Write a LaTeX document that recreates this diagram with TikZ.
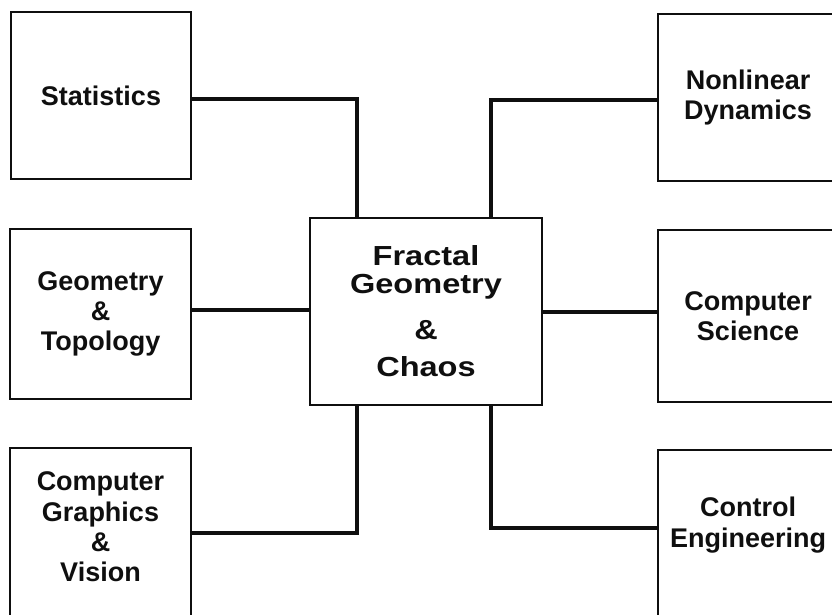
\documentclass[tikz,border=0pt]{standalone}
\usepackage{fontspec}
\setmainfont{Liberation Sans}
\newfontfamily\hubfont{Liberation Sans}[FakeStretch=1.18]
\usetikzlibrary{positioning, calc}
\definecolor{ink}{RGB}{15,15,15}

\tikzset{
  field/.style={draw=ink, line width=1.4pt, minimum width=4.5cm, minimum height=4.25cm,
    inner sep=0pt, align=center, text=ink, font=\fontsize{19.2pt}{21.6pt}\selectfont\bfseries},
  tag/.style={inner sep=0pt, align=center, text=ink, font=\fontsize{19.2pt}{21.6pt}\selectfont\bfseries},
  hub/.style={draw=ink, line width=1.4pt, minimum width=5.8cm, minimum height=4.675cm,
    inner sep=0pt, align=center, text=ink, font=\hubfont\fontsize{19.6pt}{19.9pt}\selectfont\bfseries},
  link/.style={draw=ink, line width=2.8pt}
}

\begin{document}
\begin{tikzpicture}[x=0.025cm, y=-0.025cm]
  \path[use as bounding box, clip] (0,0) rectangle (832,614);

  % the hub in the middle
  \node[hub] (fgc) at (426,311.5) {Fractal\\Geometry\\[0.45cm]\&\\[0.225cm]Chaos};

  % left column
  \node[field, minimum height=4.175cm] (stat) at (101,95.5) {Statistics};
  \node[field] (geom) at (100.5,314) {Geometry\\\&\\Topology};
  \node[field] (graph) at (100.5,533) {};
  \node[tag] (graphtxt) at (100.5,527) {Computer\\Graphics\\\&\\Vision};

  % right column
  \node[field, minimum height=4.175cm] (nonlin) at (748,97.5) {Nonlinear\\Dynamics};
  \node[field, minimum height=4.3cm] (cs) at (748,316) {Computer\\Science};
  \node[field] (ctrl) at (748,535) {};
  \node[tag] (ctrltxt) at (748,525) {Control\\Engineering};

  % connectors
  \draw[link] ([yshift=-0.0875cm]stat.east) -| ([xshift=-1.725cm]fgc.north);
  \draw[link] ([yshift=-0.0625cm]nonlin.west) -| ([xshift=1.625cm]fgc.north);
  \draw[link] ([yshift=0.1cm]geom.east) -- ([yshift=0.1cm]geom.east -| fgc.west);
  \draw[link] ([yshift=0.1cm]cs.west -| fgc.east) -- ([yshift=0.1cm]cs.west);
  \draw[link] (graph.east) -| ([xshift=-1.725cm]fgc.south);
  \draw[link] ([yshift=0.175cm]ctrl.west) -| ([xshift=1.625cm]fgc.south);
\end{tikzpicture}
\end{document}
